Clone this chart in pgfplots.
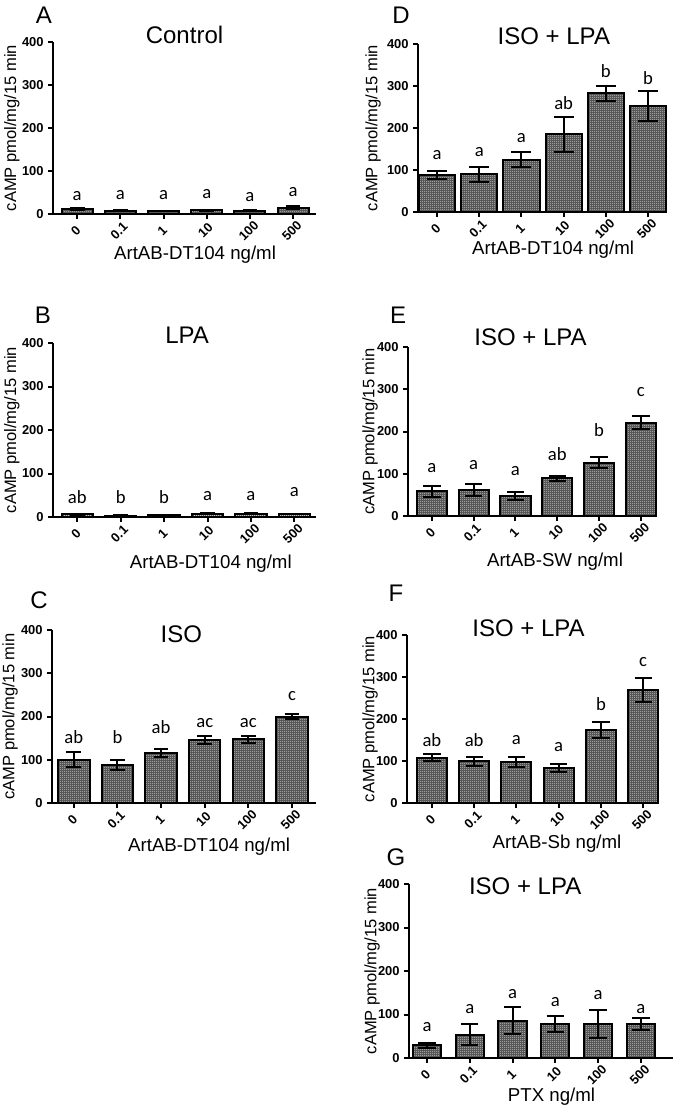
\documentclass[border=0pt]{standalone}
\usepackage{fontspec}
\setmainfont{Liberation Sans}
\newfontfamily\sigfont{Carlito}
\usepackage{pgfplots}
\usepackage{pgfplotstable}
\pgfplotsset{compat=1.18}
\usetikzlibrary{patterns.meta}

% white dots on a dark fill, like the hatched bars of the original
\tikzdeclarepattern{
  name=wdots, type=uncolored,
  bounding box={(0,0) and (1.5pt,1.5pt)},
  tile size={(1.5pt,1.5pt)},
  code={\fill (0,0) rectangle (0.75pt,0.75pt);}
}

% x y err letter-y letter
\pgfplotstableread{
x y e ly lbl
0 12 2 31 a
1 8 1 33 a
2 7 1 33 a
3 9 1 35 a
4 8 1 30 a
5 15 4 41 a
}\tA
\pgfplotstableread{
x y e ly lbl
0 6 1 32 ab
1 3 1 32 b
2 4 1 31 b
3 8 2 37 a
4 8 2 38 a
5 7 1 46 a
}\tB
\pgfplotstableread{
x y e ly lbl
0 100 17 137 ab
1 88 12 137 b
2 116 10 161 ab
3 145 9 175 ac
4 147 9 175 ac
5 200 5 236 c
}\tC
\pgfplotstableread{
x y e ly lbl
0 88 9 126 a
1 90 18 133 a
2 125 18 165 a
3 185 42 244 ab
4 283 18 321 b
5 252 36 304 b
}\tD
\pgfplotstableread{
x y e ly lbl
0 59 13 102 a
1 61 14 109 a
2 48 10 95 a
3 89 5 132 ab
4 126 13 189 b
5 221 15 283 c
}\tE
\pgfplotstableread{
x y e ly lbl
0 108 8 135 ab
1 99 10 135 ab
2 97 12 140 a
3 83 9 122 a
4 173 19 221 b
5 269 29 326 c
}\tF
\pgfplotstableread{
x y e ly lbl
0 29 5 61 a
1 54 25 103 a
2 86 31 136 a
3 78 19 119 a
4 78 33 134 a
5 78 13 103 a
}\tG

\pgfplotsset{
  panel/.style={
    scale only axis, anchor=south west, clip=false,
    axis lines=left, axis line style={line width=1.5pt, -},
    ymin=0, ymax=400, ytick={0,100,200,300,400},
    xtick={0,...,5}, xticklabels={0,0.1,1,10,100,500},
    tick align=outside, major tick length=3.5pt,
    tick style={line width=1.5pt, black},
    /pgf/number format/assume math mode=true,
    ticklabel style={font=\bfseries\fontsize{9.7}{9.7}\selectfont},
    xticklabel style={anchor=center, yshift=-9pt, xshift=-1pt, rotate=45},
    ylabel={cAMP pmol/mg/15 min},
    ylabel style={font=\fontsize{12.4}{12.4}\selectfont, anchor=center},
    xlabel style={font=\fontsize{14}{14}\selectfont, anchor=center},
    title style={font=\fontsize{18}{18}\selectfont, anchor=center},
  },
  bars/.style={ybar, draw=black, line width=1.5pt,
    fill=black!66, postaction={pattern=wdots, pattern color=white},
    error bars/.cd, y dir=both, y explicit,
    error bar style={line width=1.5pt, black},
    error mark options={rotate=90, mark size=#1, line width=1.5pt, black}},
  letters/.style={draw=none, mark=none, nodes near coords,
    point meta=explicit symbolic,
    every node near coord/.append style={anchor=base, font=\sigfont\fontsize{14}{14}\selectfont, inner sep=0pt}},
}

\begin{document}
\begin{tikzpicture}
\useasboundingbox (0,0) rectangle (506.25pt,-832.5pt);

% A
\begin{axis}[panel, at={(39.75pt,-160.5pt)}, width=197.25pt, height=129pt,
  xmin=-0.56, xmax=5.53, bar width=0.72,
  title={Control}, title style={at={(axis description cs:0.50,0.994)}},
  xlabel={ArtAB-DT104 ng/ml}, xlabel style={at={(axis description cs:0.54,-0.238)}},
  ylabel style={at={(axis description cs:-0.156,0.5)}}]
\addplot[bars=5.5pt] table[x=x, y=y, y error=e] {\tA};
\addplot[letters] table[x=x, y=ly, meta=lbl] {\tA};
\end{axis}
\node[font=\fontsize{18}{18}\selectfont] at (33pt,-11.25pt) {A};

% B
\begin{axis}[panel, at={(39.75pt,-387.75pt)}, width=197.25pt, height=130.5pt,
  xmin=-0.56, xmax=5.5, bar width=0.72,
  title={LPA}, title style={at={(axis description cs:0.51,1.0)}},
  xlabel={ArtAB-DT104 ng/ml}, xlabel style={at={(axis description cs:0.60,-0.27)}},
  ylabel style={at={(axis description cs:-0.156,0.5)}}]
\addplot[bars=5.5pt] table[x=x, y=y, y error=e] {\tB};
\addplot[letters] table[x=x, y=ly, meta=lbl] {\tB};
\end{axis}
\node[font=\fontsize{18}{18}\selectfont] at (32.25pt,-236.25pt) {B};

% C
\begin{axis}[panel, at={(39pt,-602.25pt)}, width=198pt, height=129.75pt,
  xmin=-0.5, xmax=5.55, bar width=0.72,
  title={ISO}, title style={at={(axis description cs:0.49,0.93)}},
  xlabel={ArtAB-DT104 ng/ml}, xlabel style={at={(axis description cs:0.595,-0.25)}},
  ylabel style={at={(axis description cs:-0.159,0.5)}}]
\addplot[bars=5.5pt] table[x=x, y=y, y error=e] {\tC};
\addplot[letters] table[x=x, y=ly, meta=lbl] {\tC};
\end{axis}
\node[font=\fontsize{18}{18}\selectfont] at (29.25pt,-450pt) {C};

% D
\begin{axis}[panel, at={(313.5pt,-159pt)}, width=185.25pt, height=126pt,
  xmin=-0.45, xmax=5.4, bar width=0.86,
  title={ISO + LPA}, title style={at={(axis description cs:0.55,1.0)}},
  xlabel={ArtAB-DT104 ng/ml}, xlabel style={at={(axis description cs:0.547,-0.226)}},
  ylabel style={at={(axis description cs:-0.182,0.5)}}]
\addplot[bars=7.5pt] table[x=x, y=y, y error=e] {\tD};
\addplot[letters] table[x=x, y=ly, meta=lbl] {\tD};
\end{axis}
\node[font=\fontsize{18}{18}\selectfont] at (300.75pt,-11.25pt) {D};

% E
\begin{axis}[panel, at={(306pt,-387pt)}, width=183.75pt, height=126.75pt,
  xmin=-0.57, xmax=5.29, bar width=0.72,
  title={ISO + LPA}, title style={at={(axis description cs:0.50,1.01)}},
  xlabel={ArtAB-SW ng/ml}, xlabel style={at={(axis description cs:0.60,-0.272)}},
  ylabel style={at={(axis description cs:-0.155,0.5)}}]
\addplot[bars=6.5pt] table[x=x, y=y, y error=e] {\tE};
\addplot[letters] table[x=x, y=ly, meta=lbl] {\tE};
\end{axis}
\node[font=\fontsize{18}{18}\selectfont] at (298.5pt,-236.25pt) {E};

% F
\begin{axis}[panel, at={(305.25pt,-602.25pt)}, width=186pt, height=126pt,
  xmin=-0.59, xmax=5.28, bar width=0.71,
  title={ISO + LPA}, title style={at={(axis description cs:0.49,0.99)}},
  xlabel={ArtAB-Sb ng/ml}, xlabel style={at={(axis description cs:0.605,-0.24)}},
  ylabel style={at={(axis description cs:-0.149,0.5)}}]
\addplot[bars=6.5pt] table[x=x, y=y, y error=e] {\tF};
\addplot[letters] table[x=x, y=ly, meta=lbl] {\tF};
\end{axis}
\node[font=\fontsize{18}{18}\selectfont] at (297pt,-444.75pt) {F};

% G
\begin{axis}[panel, at={(306.75pt,-793.5pt)}, width=198pt, height=130.5pt,
  xmin=-0.42, xmax=5.75, bar width=0.66,
  title={ISO + LPA}, title style={at={(axis description cs:0.44,0.94)}},
  xlabel={PTX ng/ml}, xlabel style={at={(axis description cs:0.54,-0.224)}},
  ylabel style={at={(axis description cs:-0.14,0.5)}}]
\addplot[bars=6.5pt] table[x=x, y=y, y error=e] {\tG};
\addplot[letters] table[x=x, y=ly, meta=lbl] {\tG};
\end{axis}
\node[font=\fontsize{18}{18}\selectfont] at (297pt,-642.75pt) {G};

\end{tikzpicture}
\end{document}
